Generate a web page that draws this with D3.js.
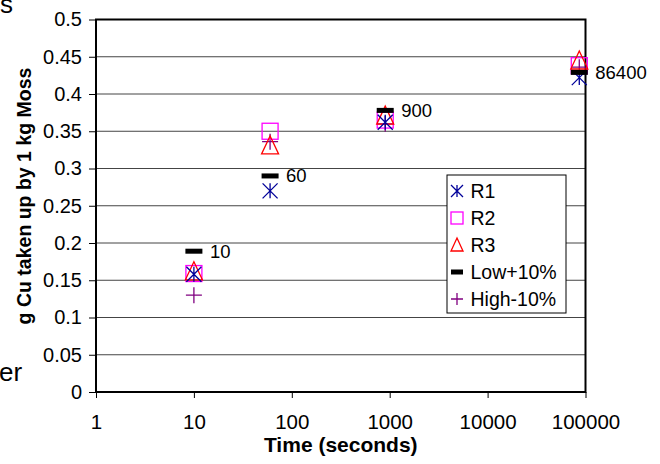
<!DOCTYPE html>
<html>
<head>
<meta charset="utf-8">
<script src="https://cdn.jsdelivr.net/npm/d3@7"></script>
<style>
  body { margin: 0; background: #fff; }
  svg { display: block; font-family: "Liberation Sans", Arial, sans-serif; }
</style>
</head>
<body>
<svg id="chart" width="660" height="464"></svg>
<script>
const times = [10, 60, 900, 86400]
const timeLabels = ["10", "60", "900", "86400"]
const r1 = [0.158, 0.27, 0.362, 0.422]
const r2 = [0.159, 0.35, 0.365, 0.438]
const r3 = [0.162, 0.331, 0.371, 0.445]
const low10 = [0.189, 0.29, 0.378, 0.429]
const high10 = [0.13, 0.336, 0.36, 0.436]
const yTicks = [0, 0.05, 0.1, 0.15, 0.2, 0.25, 0.3, 0.35, 0.4, 0.45, 0.5]
const xTicks = [1, 10, 100, 1000, 10000, 100000]

const svg = d3.select("#chart")

const plotL = 96, plotR = 585.5, plotT = 19.5, plotB = 392

const x = d3.scaleLog().domain([1, 100000]).range([plotL, plotR])
const y = d3.scaleLinear().domain([0, 0.5]).range([plotB, plotT])

// clipped text pieces at the left edge
svg.append("text").attr("x", 0).attr("y", 13).attr("font-size", 26).text("s")
svg.append("text").attr("x", -1).attr("y", 381).attr("font-size", 26).text("er")

// grid
svg.append("g").selectAll("line")
  .data(yTicks.slice(1, -1))
  .enter().append("line")
  .attr("x1", plotL).attr("x2", plotR)
  .attr("y1", d => y(d)).attr("y2", d => y(d))
  .attr("stroke", "#444").attr("stroke-width", 1)

// axes
const yAxis = d3.axisLeft(y).tickValues(yTicks).tickSize(7).tickPadding(7)
  .tickFormat(d => String(+d.toFixed(2)))
const gy = svg.append("g").attr("transform", `translate(${plotL},0)`).call(yAxis)
gy.select(".domain").remove()
gy.selectAll("text").attr("font-size", 20).attr("font-family", "Liberation Sans, Arial, sans-serif").attr("fill", "#000")

const xAxis = d3.axisBottom(x).tickValues(xTicks).tickSize(6).tickPadding(16)
  .tickFormat(d3.format("d"))
const gx = svg.append("g").attr("transform", `translate(0,${plotB})`).call(xAxis)
gx.select(".domain").remove()
gx.selectAll("text").attr("font-size", 20.5).attr("font-family", "Liberation Sans, Arial, sans-serif").attr("fill", "#000")

// plot border
svg.append("rect")
  .attr("x", plotL).attr("y", plotT)
  .attr("width", plotR - plotL).attr("height", plotB - plotT)
  .attr("fill", "none").attr("stroke", "#000").attr("stroke-width", 2)

// titles
svg.append("text")
  .attr("transform", `translate(31,196) rotate(-90)`)
  .attr("text-anchor", "middle").attr("font-size", 19.5).attr("font-weight", "bold")
  .text("g Cu taken up by 1 kg Moss")
svg.append("text")
  .attr("x", (plotL + plotR) / 2).attr("y", 452)
  .attr("text-anchor", "middle").attr("font-size", 21).attr("font-weight", "bold")
  .text("Time (seconds)")

// marker shapes
function star(g, s, color) {
  const h = s / 2
  g.append("path").attr("d", `M${-h},${-h}L${h},${h}M${-h},${h}L${h},${-h}M0,${-h}L0,${h}`)
    .attr("stroke", color).attr("stroke-width", 1.3).attr("fill", "none")
}
function square(g, s, color) {
  g.append("rect").attr("x", -s / 2).attr("y", -s / 2).attr("width", s).attr("height", s)
    .attr("stroke", color).attr("stroke-width", 1.3).attr("fill", "none")
}
function triangle(g, s, color) {
  const h = s / 2
  g.append("path").attr("d", `M0,${-h - 1}L${h},${h}L${-h},${h}Z`)
    .attr("stroke", color).attr("stroke-width", 1.3).attr("fill", "none")
}
function dash(g, s, color) {
  g.append("rect").attr("x", -s / 2).attr("y", -2.5).attr("width", s).attr("height", 5)
    .attr("fill", color)
}
function plus(g, s, color) {
  const h = s / 2
  g.append("path").attr("d", `M${-h},0L${h},0M0,${-h}L0,${h}`)
    .attr("stroke", color).attr("stroke-width", 1.3).attr("fill", "none")
}

const series = [
  {name: "R1", values: r1, shape: star, color: "#000099", size: 15},
  {name: "R2", values: r2, shape: square, color: "#ff00ff", size: 16},
  {name: "R3", values: r3, shape: triangle, color: "#ff0000", size: 17},
  {name: "Low+10%", values: low10, shape: dash, color: "#000", size: 17},
  {name: "High-10%", values: high10, shape: plus, color: "#800080", size: 16}
]

const drawOrder = [4, 1, 2, 0, 3]
drawOrder.forEach(si => {
  const s = series[si]
  s.values.forEach((v, i) => {
    const g = svg.append("g").attr("transform", `translate(${x(times[i])},${y(v)})`)
    s.shape(g, s.size, s.color)
  })
})

// time labels next to the dashes
svg.append("g").selectAll("text")
  .data(times)
  .enter().append("text")
  .attr("x", d => x(d) + 16)
  .attr("y", (d, i) => y(low10[i]) + 6.5)
  .attr("font-size", 18.5)
  .text((d, i) => timeLabels[i])

// legend
const lg = svg.append("g").attr("transform", "translate(447,175)")
lg.append("rect").attr("width", 119).attr("height", 138)
  .attr("fill", "#fff").attr("stroke", "#000").attr("stroke-width", 1)
series.forEach((s, i) => {
  const cy = 16 + i * 27
  const g = lg.append("g").attr("transform", `translate(10,${cy})`)
  s.shape(g, 12, s.color)
  lg.append("text").attr("x", 23.5).attr("y", cy + 7).attr("font-size", 19.5).text(s.name)
})
</script>
</body>
</html>
